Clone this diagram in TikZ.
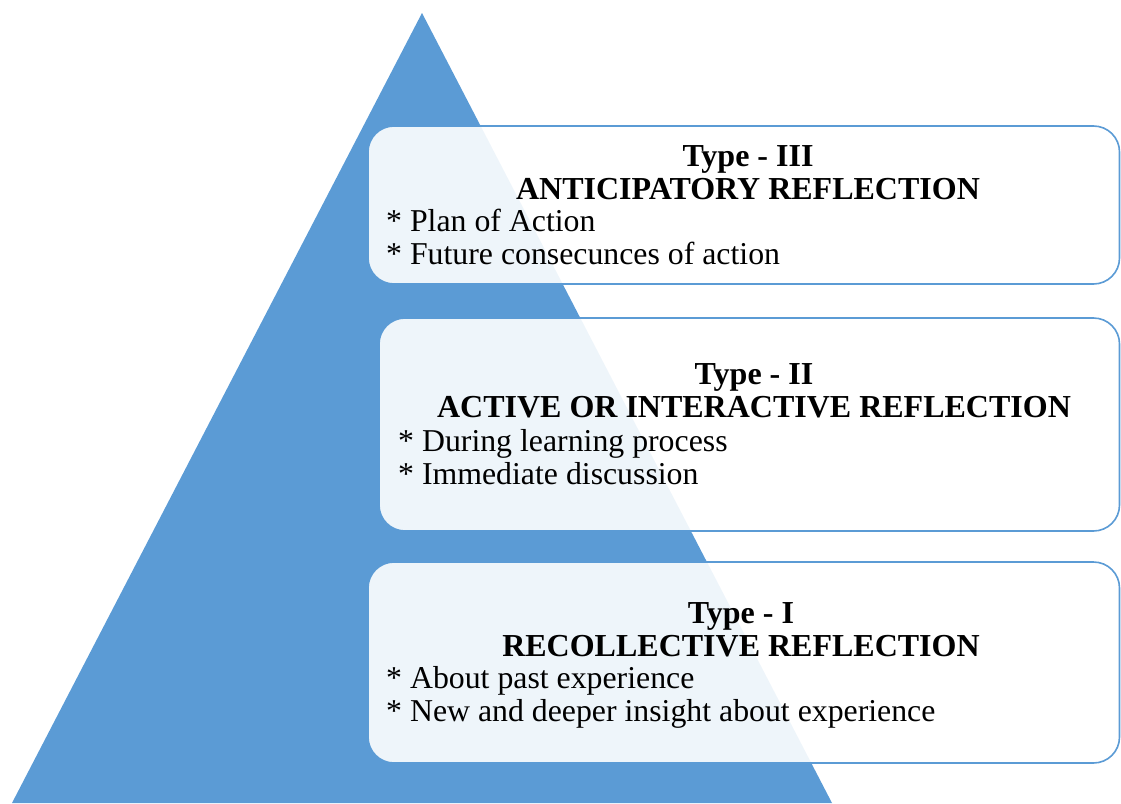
\documentclass[tikz,border=0pt]{standalone}
\usepackage{fontspec}
\setmainfont{Liberation Serif}
\definecolor{pyrblue}{HTML}{5B9BD5}
\tikzset{
  levelbox/.style={draw=pyrblue, line width=1.6pt, fill=white, fill opacity=0.9, rounded corners=26pt},
  titletext/.style={font=\fontsize{32}{34}\selectfont\bfseries, anchor=base, inner sep=0pt, align=center},
  bullettext/.style={font=\fontsize{31.8}{34}\selectfont, anchor=base west, inner sep=0pt, align=left},
}
\begin{document}
\begin{tikzpicture}[x=1pt,y=-1pt]
\useasboundingbox (0,0) rectangle (1121,803);
\coordinate (apex) at (422,13);
\coordinate (bl) at (12,803);
\coordinate (br) at (832,803);
\fill[pyrblue] (apex) -- (br) -- (bl) -- cycle;

% boxes
\draw[levelbox] (368,126) rectangle (1119.5,284);
\draw[levelbox] (379,318) rectangle (1119.5,531);
\draw[levelbox] (368,562) rectangle (1119.5,763);

% Type III
\node[titletext] (t3a) at (748,166) {Type - III};
\node[titletext] (t3b) at (748,199) {ANTICIPATORY REFLECTION};
\node[bullettext] (t3c) at (386,231) {* Plan of Action};
\node[bullettext] (t3d) at (386,264) {* Future consecunces of action};

% Type II
\node[titletext] (t2a) at (754,384) {Type - II};
\node[titletext] (t2b) at (754,417) {ACTIVE OR INTERACTIVE REFLECTION};
\node[bullettext] (t2c) at (398,451) {* During learning process};
\node[bullettext] (t2d) at (398,484) {* Immediate discussion};

% Type I
\node[titletext] (t1a) at (741,623) {Type - I};
\node[titletext] (t1b) at (741,656) {RECOLLECTIVE REFLECTION};
\node[bullettext] (t1c) at (386,688) {* About past experience};
\node[bullettext] (t1d) at (386,721) {* New and deeper insight about experience};
\end{tikzpicture}
\end{document}
